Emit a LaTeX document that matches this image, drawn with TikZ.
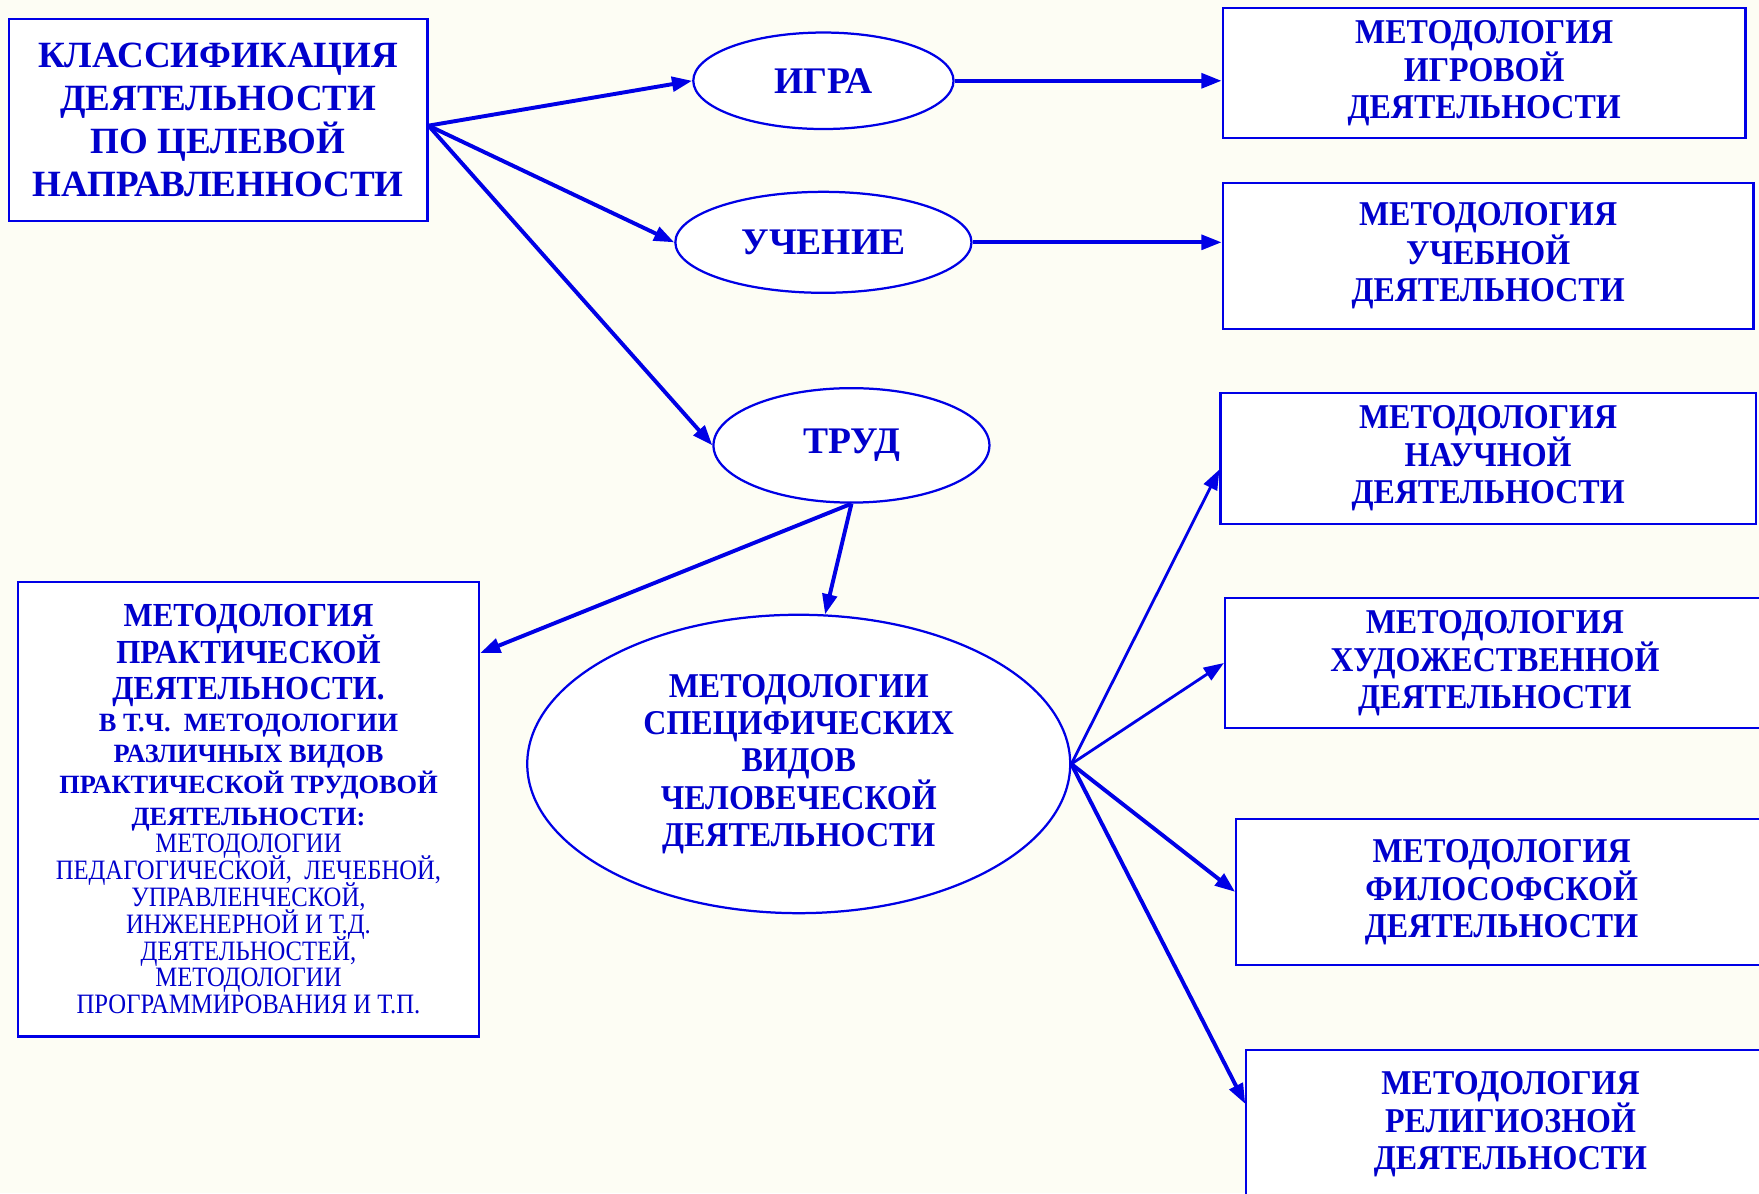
\documentclass[tikz,border=0pt]{standalone}
\usepackage{fontspec}
\setmainfont{Liberation Serif}
\newfontfamily\narrowfont[FakeStretch=0.92]{Liberation Serif}
\newfontfamily\slimfont[FakeStretch=0.88]{Liberation Serif}
\usetikzlibrary{shapes.geometric}
\usetikzlibrary{arrows.meta}
\definecolor{bgcream}{RGB}{253,253,244}
\definecolor{lineblue}{RGB}{0,0,230}
\definecolor{textblue}{RGB}{0,0,204}

\begin{document}
\begin{tikzpicture}
[x=1pt,y=-1pt,
 box/.style={shape=rectangle,draw=lineblue,line width=2pt,fill=white,
   text=textblue,align=center,inner sep=0pt},
 oval/.style={shape=ellipse,draw=lineblue,line width=2pt,fill=white,
   text=textblue,align=center,inner sep=0pt},
 big/.style={font=\bfseries\fontsize{33.5}{38.5}\selectfont},
 mid/.style={font=\narrowfont\bfseries\fontsize{31}{33}\selectfont},
 link/.style={draw=lineblue,line width=3.5pt,-{Triangle[length=18pt,width=13pt]}},
 thinlink/.style={link,line width=2.5pt}]

\fill [bgcream] (0,0) rectangle (1568,1063.5);
\useasboundingbox (0,0) rectangle (1568,1063.5);

\node (cls) at (194.5,107) [box,big,minimum width=373pt,minimum height=180pt,
	font=\bfseries\fontsize{33}{38.5}\selectfont]
	{КЛАССИФИКАЦИЯ\\ДЕЯТЕЛЬНОСТИ\\ПО ЦЕЛЕВОЙ\\НАПРАВЛЕННОСТИ};

\node (igra) at (734,72) [oval,big,minimum width=232pt,minimum height=86pt] {ИГРА};
\node (uch) at (734,216) [oval,big,minimum width=264pt,minimum height=90pt] {УЧЕНИЕ};
\node (trud) at (759,397) [oval,big,minimum width=246pt,minimum height=102pt] {ТРУД};
\node (spec) at (712,681) [oval,mid,minimum width=484pt,minimum height=266pt]
	{МЕТОДОЛОГИИ\\СПЕЦИФИЧЕСКИХ\\ВИДОВ\\ЧЕЛОВЕЧЕСКОЙ\\ДЕЯТЕЛЬНОСТИ};

\node (mgame) at (1323,65) [box,mid,minimum width=466pt,minimum height=116pt]
	{МЕТОДОЛОГИЯ\\ИГРОВОЙ\\ДЕЯТЕЛЬНОСТИ};
\node (mstudy) at (1326.5,228) [box,mid,minimum width=473pt,minimum height=130pt]
	{МЕТОДОЛОГИЯ\\УЧЕБНОЙ\\ДЕЯТЕЛЬНОСТИ};
\node (msci) at (1326.5,408.5) [box,mid,minimum width=477pt,minimum height=117pt]
	{МЕТОДОЛОГИЯ\\НАУЧНОЙ\\ДЕЯТЕЛЬНОСТИ};
\node (mart) at (1332.5,591) [box,mid,minimum width=481pt,minimum height=116pt]
	{МЕТОДОЛОГИЯ\\ХУДОЖЕСТВЕННОЙ\\ДЕЯТЕЛЬНОСТИ};
\node (mphil) at (1338.5,795) [box,mid,minimum width=473pt,minimum height=130pt]
	{МЕТОДОЛОГИЯ\\ФИЛОСОФСКОЙ\\ДЕЯТЕЛЬНОСТИ};
\node (mrel) at (1346.5,1002) [box,mid,minimum width=471pt,minimum height=132pt]
	{МЕТОДОЛОГИЯ\\РЕЛИГИОЗНОЙ\\ДЕЯТЕЛЬНОСТИ};

\node (mprac) at (221.5,721.5) [box,minimum width=411pt,minimum height=405pt,
	text width=405pt,align=flush center,
	font=\narrowfont\bfseries\fontsize{30}{32.5}\selectfont]
	{МЕТОДОЛОГИЯ\\ПРАКТИЧЕСКОЙ\\ДЕЯТЕЛЬНОСТИ.\\
	\rmfamily\bfseries\fontsize{23.5}{28}\selectfont В Т.Ч.~ МЕТОДОЛОГИИ\\РАЗЛИЧНЫХ ВИДОВ\\
	ПРАКТИЧЕСКОЙ ТРУДОВОЙ\\ДЕЯТЕЛЬНОСТИ:\\
	\slimfont\mdseries\fontsize{25}{24}\selectfont\lineskiplimit=-20pt МЕТОДОЛОГИИ\\
	ПЕДАГОГИЧЕСКОЙ,~ ЛЕЧЕБНОЙ,\\УПРАВЛЕНЧЕСКОЙ,\\ИНЖЕНЕРНОЙ И Т.Д.\\
	ДЕЯТЕЛЬНОСТЕЙ,\\МЕТОДОЛОГИИ\\ПРОГРАММИРОВАНИЯ И Т.П.\par};

\draw [link] ([yshift=-5pt]cls.east) -- (igra.west);
\draw [link] ([yshift=-5pt]cls.east) -- (uch.west);
\draw [link] ([yshift=-5pt]cls.east) -- (trud.west);
\draw [link] (igra.east) -- (igra.east -| mgame.west);
\draw [link] (uch.east) -- (uch.east -| mstudy.west);

\draw [link] (trud.south) -- (mprac.34);
\draw [link] (trud.south) -- (spec.80);

\draw [thinlink] (spec.east) -- ([yshift=-10pt]msci.west);
\draw [thinlink] (spec.east) -- (mart.west);
\draw [link] (spec.east) -- (mphil.west);
\draw [link] (spec.east) -- ([yshift=-49pt]mrel.north west);
\end{tikzpicture}
\end{document}
